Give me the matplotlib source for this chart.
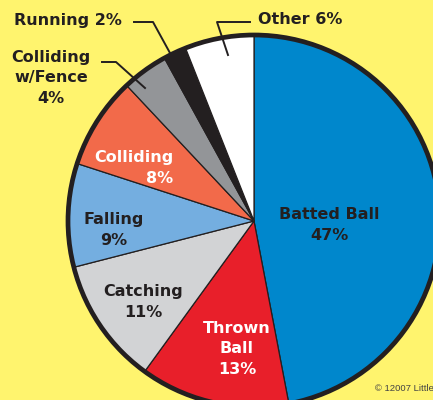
import numpy as np
import matplotlib.pyplot as plt
from matplotlib.patches import Circle

# wedge data, clockwise from 12 o'clock
labels = ['Batted Ball', 'Thrown\nBall', 'Catching', 'Falling', 'Colliding',
          'Colliding\nw/Fence', 'Running', 'Other']
values = [47, 13, 11, 9, 8, 4, 2, 6]
colors = ['#0087cc', '#e81f2a', '#d2d3d5', '#74aee0', '#f26a4a',
          '#939598', '#231f20', '#ffffff']
text_colors = ['#231f20', 'white', '#231f20', '#231f20', 'white',
               '#231f20', '#231f20', '#231f20']

BG = '#fff46e'
INK = '#231f20'

# pixel -> data helper (pie centre at 254,221, radius 186 px)
CX, CY, R = 254, 221, 186


def px(x, y):
    return (x - CX) / R, (CY - y) / R


fig = plt.figure(figsize=(4.33, 4.0), dpi=100, facecolor=BG)
ax = fig.add_axes([0, 0, 1, 1])
ax.set_facecolor(BG)

wedges, _ = ax.pie(values, colors=colors, startangle=90, counterclock=False,
                   radius=1.0, wedgeprops=dict(edgecolor=INK, linewidth=0.9))
ax.add_patch(Circle((0, 0), 1.0, fill=False, edgecolor=INK, linewidth=3.4, zorder=5))

x0, y1 = px(0, 0)
x1, y0 = px(433, 400)
ax.set_xlim(x0, x1)
ax.set_ylim(y0, y1)
ax.set_aspect('equal')
ax.axis('off')

font = dict(fontfamily='DejaVu Sans', fontweight='bold', fontsize=11.5,
            linespacing=1.45)

# labels inside wedges (pixel positions of text centres, alignment)
inside = {0: (329, 225, 'center'), 1: (237, 349, 'center'),
          2: (143, 302, 'center'), 3: (114, 230, 'center'),
          4: (134, 168, 'right')}
for i, (tx, ty, al) in inside.items():
    ax.text(*px(tx, ty), f'{labels[i]}\n{values[i]}%', color=text_colors[i],
            ha='center', va='center', multialignment=al, **font)

# outside labels with leader lines
ax.text(*px(51, 78), f'{labels[5]}\n{values[5]}%', color=INK, ha='center',
        va='center', **font)
ax.text(*px(68, 21), f'{labels[6]} {values[6]}%', color=INK, ha='center',
        va='center', **font)
ax.text(*px(300, 20), f'{labels[7]} {values[7]}%', color=INK, ha='center',
        va='center', **font)

leaders = [
    [(102, 62), (116, 62), (145, 88)],
    [(134, 22), (153, 22), (170, 53)],
    [(250, 22), (217, 22), (228, 55)],
]
for pts in leaders:
    xs, ys = zip(*[px(*p) for p in pts])
    ax.plot(xs, ys, color=INK, linewidth=1.4, zorder=6)

ax.text(*px(434, 389), '\u00a9 12007 Little', color='#444444', ha='right',
        va='center', fontsize=6.8, fontfamily='Liberation Sans')

fig.savefig('out.png', dpi=100, facecolor=BG)
